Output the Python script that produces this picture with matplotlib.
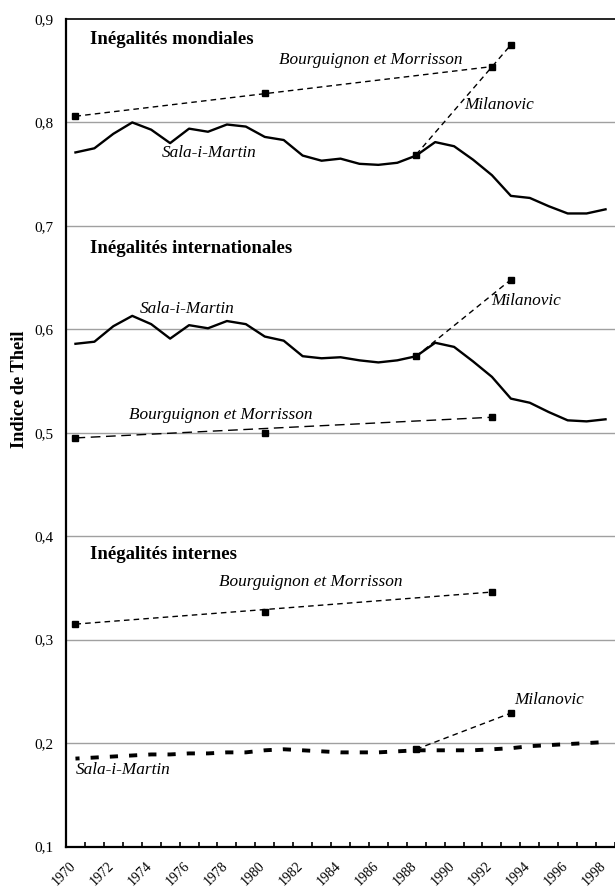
import numpy as np
import matplotlib
matplotlib.use("Agg")
import matplotlib.pyplot as plt
from matplotlib.transforms import ScaledTranslation

plt.rcParams['font.family'] = ['Liberation Serif', 'DejaVu Serif']

years = list(range(1970, 1999))

# Sala-i-Martin (annual)
sala_mond = [0.771, 0.775, 0.789, 0.800, 0.793, 0.780, 0.794, 0.791, 0.798, 0.796,
             0.786, 0.783, 0.768, 0.763, 0.765, 0.760, 0.759, 0.761, 0.768, 0.781,
             0.777, 0.764, 0.749, 0.729, 0.727, 0.719, 0.712, 0.712, 0.716]
sala_intl = [0.586, 0.588, 0.603, 0.613, 0.605, 0.591, 0.604, 0.601, 0.608, 0.605,
             0.593, 0.589, 0.574, 0.572, 0.573, 0.570, 0.568, 0.570, 0.574, 0.587,
             0.583, 0.569, 0.554, 0.533, 0.529, 0.520, 0.512, 0.511, 0.513]
sala_int = [0.185, 0.186, 0.187, 0.188, 0.189, 0.189, 0.190, 0.190, 0.191, 0.191,
            0.193, 0.194, 0.193, 0.192, 0.191, 0.191, 0.191, 0.192, 0.193, 0.193,
            0.193, 0.193, 0.194, 0.195, 0.197, 0.198, 0.199, 0.200, 0.201]

# Bourguignon et Morrisson
bm_years = [1970, 1980, 1992]
bm_mond = [0.806, 0.828, 0.854]
bm_intl = [0.495, 0.500, 0.515]
bm_int = [0.315, 0.327, 0.346]

# Milanovic
mil_years = [1988, 1993]
mil_mond = [0.769, 0.875]
mil_intl = [0.574, 0.648]
mil_int = [0.194, 0.229]

ytick_vals = [0.1, 0.2, 0.3, 0.4, 0.5, 0.6, 0.7, 0.8, 0.9]
ytick_labels = ['0,1', '0,2', '0,3', '0,4', '0,5', '0,6', '0,7', '0,8', '0,9']
xtick_labels = [str(y) for y in years[::2]]


def idx(ys):
    return [years.index(y) for y in ys]


fig = plt.figure(figsize=(6.15, 8.92), dpi=100)
ax = fig.add_axes([66 / 615, 45.5 / 892, 549 / 615, 827.5 / 892])

for v in ytick_vals[1:-1]:
    ax.axhline(v, color='#a0a0a0', lw=1.0, zorder=1)

x = np.arange(len(years))
sq = dict(marker='s', ms=5, mfc='black', mec='black', color='black')

# solid Sala-i-Martin lines
ax.plot(x, sala_mond, color='black', lw=1.7, zorder=3)
ax.plot(x, sala_intl, color='black', lw=1.7, zorder=3)
# heavy dashed line for internal inequality
ax.plot(x, sala_int, color='black', lw=2.8, zorder=3,
        linestyle=(1.05, (2.1, 2.85)), dash_capstyle='butt')

# Bourguignon et Morrisson: markers + straight line between end points
for vals, dash in [(bm_mond, (4, 3)), (bm_intl, (7, 4)), (bm_int, (4, 3))]:
    bx = idx(bm_years)
    ax.plot([bx[0], bx[-1]], [vals[0], vals[-1]], color='black', lw=1.0,
            dashes=dash, zorder=2)
    ax.plot(bx, vals, linestyle='none', zorder=4, **sq)

# Milanovic
for vals in [mil_mond, mil_intl, mil_int]:
    mx = idx(mil_years)
    ax.plot(mx, vals, color='black', lw=1.0, dashes=(4, 3), zorder=2)
    ax.plot(mx, vals, linestyle='none', zorder=4, **sq)

tfs = 13.5
ax.text(0.75, 0.880, 'Inégalités mondiales', fontsize=tfs, fontweight='bold', va='center')
ax.text(0.75, 0.678, 'Inégalités internationales', fontsize=tfs, fontweight='bold', va='center')
ax.text(0.75, 0.382, 'Inégalités internes', fontsize=tfs, fontweight='bold', va='center')

lfs = 12.4
it = dict(fontsize=lfs, style='italic', va='center')
ax.text(10.77, 0.860, 'Bourguignon et Morrisson', **it)
ax.text(20.53, 0.817, 'Milanovic', **it)
ax.text(4.56, 0.770, 'Sala-i-Martin', **it)
ax.text(3.41, 0.620, 'Sala-i-Martin', **it)
ax.text(2.84, 0.517, 'Bourguignon et Morrisson', **it)
ax.text(21.98, 0.627, 'Milanovic', **it)
ax.text(7.59, 0.356, 'Bourguignon et Morrisson', **it)
ax.text(23.2, 0.242, 'Milanovic', **it)
ax.text(0.02, 0.174, 'Sala-i-Martin', **it)

ax.set_xlim(-0.5, 28.15)
ax.set_ylim(0.1, 0.9)
ax.set_yticks(ytick_vals)
ax.set_yticklabels(ytick_labels, fontsize=11)
ax.tick_params(axis='y', length=0, pad=9)

ax.set_xticks(x[::2])
ax.set_xticks(np.arange(len(years)) + 0.5, minor=True)
ax.tick_params(axis='x', which='major', length=0, pad=9)
ax.tick_params(axis='x', which='minor', direction='in', length=3.5, width=1.2)
ax.set_xticklabels(xtick_labels, fontsize=10, rotation=45, ha='right',
                   rotation_mode='anchor')
# Excel-style: label ends a little left of the category centre
shift = ScaledTranslation(-6 / 100, 0, fig.dpi_scale_trans)
for lab in ax.get_xticklabels():
    lab.set_transform(lab.get_transform() + shift)

fig.text(20 / 615, 1 - 389 / 892, 'Indice de Theil', fontsize=13.2,
         fontweight='bold', rotation=90, ha='center', va='center')

ax.spines['right'].set_visible(False)
for s in ['left', 'bottom']:
    ax.spines[s].set_linewidth(1.6)
ax.spines['top'].set_linewidth(1.2)

fig.savefig('out.png', dpi=100)
